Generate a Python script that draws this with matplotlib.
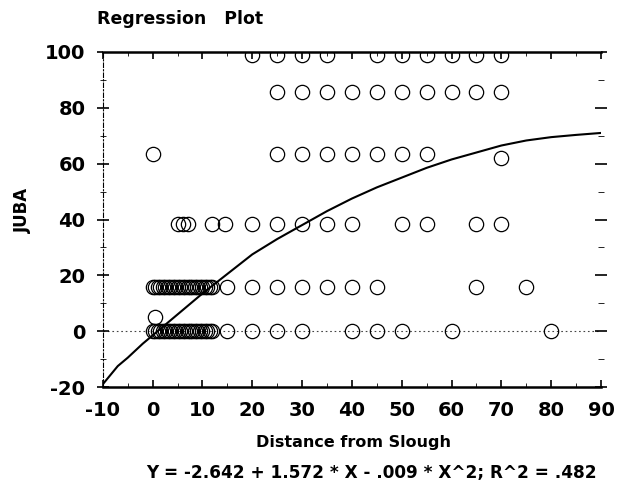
import numpy as np
import matplotlib
matplotlib.use("Agg")
import matplotlib.pyplot as plt
from matplotlib.ticker import MultipleLocator
from matplotlib.patches import Rectangle

plt.rcParams["axes.unicode_minus"] = False

# ---- data ----
dense = [0, 0.5, 1, 1.5, 2, 2.5, 3, 3.5, 4, 4.5, 5, 5.5, 6, 6.5, 7, 7.5, 8, 8.5,
         9, 9.5, 10, 10.5, 11, 11.5, 12]
row0_x = dense + [15, 20, 25, 30, 40, 45, 50, 60, 80]
row0_y = 0.0
row16_x = dense + [15, 20, 25, 30, 35, 40, 45, 65, 75]
row16_y = 16.0
row38_x = [5, 6, 7, 12, 14.5, 20, 25, 30, 35, 40, 50, 55, 65, 70]
row38_y = 38.5
row63_x = [0, 25, 30, 35, 40, 45, 50, 55]
row63_y = 63.5
extra_x = [0.5, 70]
extra_y = [5, 62]
row85_x = [25, 30, 35, 40, 45, 50, 55, 60, 65, 70]
row85_y = 85.5
row98_x = [20, 25, 30, 35, 45, 50, 55, 60, 65, 70]
row98_y = 99.0

curve_x = [-10, -7, -5, -2, 0, 5, 10, 15, 20, 25, 30, 35, 40, 45, 50, 55, 60, 65, 70, 75, 80, 85, 90]
curve_y = [-19, -12.5, -9.5, -4.5, -1.5, 6, 13.5, 20.5, 27.5, 33, 38, 43, 47.5, 51.5, 55,
           58.5, 61.5, 64, 66.5, 68.3, 69.5, 70.3, 71]

x_ticks = [-10, 0, 10, 20, 30, 40, 50, 60, 70, 80, 90]
y_ticks = [-20, 0, 20, 40, 60, 80, 100]

title = "Regression   Plot"
xlabel = "Distance from Slough"
ylabel = "JUBA"
equation = "Y = -2.642 + 1.572 * X - .009 * X^2; R^2 = .482"

# ---- figure ----
fig = plt.figure(figsize=(6.27, 4.97), dpi=100)
ax = fig.add_axes([0.164, 0.2213, 0.7945, 0.6741])

xs = []
ys = []
for rx, ry in [(row0_x, row0_y), (row16_x, row16_y), (row38_x, row38_y),
               (row63_x, row63_y), (row85_x, row85_y), (row98_x, row98_y)]:
    xs += list(rx)
    ys += [ry] * len(rx)
xs += extra_x
ys += extra_y

ax.axhline(0, color="#444444", lw=0.8, ls=(0, (1.5, 2.5)), zorder=1)
ax.plot(xs, ys, ls="none", marker="o", ms=10.3, mfc="none", mec="black", mew=0.9, zorder=2)
ax.plot(curve_x, curve_y, color="black", lw=1.5, zorder=3)

# mask for marker parts above the top spine
ax.add_patch(Rectangle((0, 1.0), 1, 0.04, transform=ax.transAxes, facecolor="white",
                       edgecolor="none", clip_on=False, zorder=3.5))

ax.set_xlim(-10, 90)
ax.set_ylim(-20, 100)
ax.set_xticks(x_ticks)
ax.set_yticks(y_ticks)
ax.xaxis.set_minor_locator(MultipleLocator(5))
ax.yaxis.set_minor_locator(MultipleLocator(10))

for s in ["top", "bottom"]:
    ax.spines[s].set_linewidth(1.8)
    ax.spines[s].set_zorder(4)
ax.spines["right"].set_visible(False)
ax.spines["left"].set_linewidth(0.8)
ax.spines["left"].set_linestyle((0, (4, 2, 1, 2)))
ax.spines["left"].set_zorder(4)

ax.tick_params(axis="both", which="major", labelsize=14, width=1.2, color="black")
ax.tick_params(axis="x", which="both", direction="in", top=True, bottom=True)
ax.tick_params(axis="x", which="major", length=5, pad=10)
ax.tick_params(axis="x", which="minor", length=3)
ax.tick_params(axis="y", which="both", direction="inout", left=True, right=True)
ax.tick_params(axis="y", which="major", length=9, pad=8)
ax.tick_params(axis="y", which="minor", length=4)
for lab in ax.get_xticklabels() + ax.get_yticklabels():
    lab.set_fontweight("bold")

fig.text(0.155, 0.962, title, fontsize=12.5, fontweight="bold", ha="left", va="center")
fig.text(0.036, 0.577, ylabel, fontsize=12, fontweight="bold", rotation=90, ha="center", va="center")
fig.text(0.563, 0.109, xlabel, fontsize=11.5, fontweight="bold", ha="center", va="center")
fig.text(0.593, 0.048, equation, fontsize=12.2, fontweight="bold", ha="center", va="center")

fig.savefig("out.png", dpi=100, facecolor="white")
